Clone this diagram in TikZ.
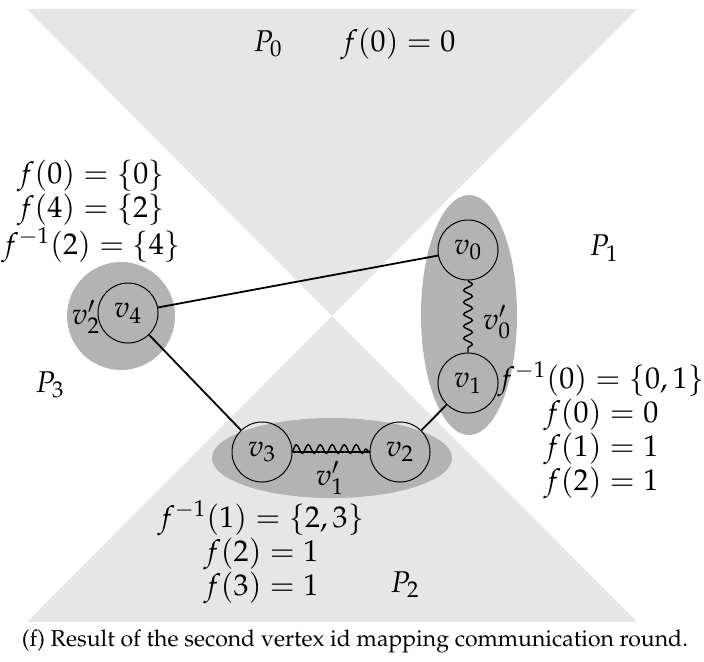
\documentclass[tikz,border=0pt]{standalone}
\usepackage[T1]{fontenc}
\usepackage{mathpazo}
\usepackage{tikz}
\usetikzlibrary{positioning,decorations.pathmorphing}
\definecolor{Region}{HTML}{E6E6E6}
\definecolor{Group}{HTML}{B3B3B3}
\newcommand{\figsize}{\fontsize{15}{17}\selectfont}
\tikzset{
  vtx/.style={circle,draw=black,line width=.5pt,minimum size=30pt,inner sep=0pt,font=\figsize},
  grp/.style={fill=Group,draw=none},
  txt/.style={font=\figsize,inner sep=0pt,align=center},
  edge/.style={draw=black,line width=.9pt},
  merge/.style={draw=black,line width=.7pt,decorate,decoration={snake,amplitude=2.2pt,segment length=6pt}}
}

\begin{document}
\begin{tikzpicture}[x=.5pt,y=-.5pt]
  \useasboundingbox (0,0) rectangle (704,661);
  % partitions
  \fill[Region] (27,9) -- (637,9) -- (332,316) -- cycle;
  \fill[Region] (27,622) -- (637,622) -- (332,316) -- cycle;
  % merged vertices
  \fill[grp] (121,316) circle [radius=27pt];
  \fill[grp] (469,315) ellipse [x radius=24pt,y radius=60pt];
  \fill[grp] (332,458) ellipse [x radius=60pt,y radius=20pt];
  % vertices
  \node[vtx] (v4) at (128,313) {$v_4$};
  \node[vtx] (v0) at (468,250) {$v_0$};
  \node[vtx] (v1) at (468,383) {$v_1$};
  \node[vtx] (v3) at (262,452) {$v_3$};
  \node[vtx] (v2) at (400,452) {$v_2$};
  \draw[edge] (v4) -- (v0);
  \draw[edge] (v4) -- (v3);
  \draw[edge] (v1) -- (v2);
  \draw[merge] (v0) -- (v1);
  \draw[merge,decoration={raise=1.5pt}] (v3) -- (v2);
  \draw[line width=.7pt] (v3) -- (v2);
  % labels
  \node[txt] (v2p) at (86,317) {$v'_2$};
  \node[txt] (v0p) at (497,322) {$v'_0$};
  \node[txt] (v1p) at (330,478) {$v'_1$};
  \node[txt] (P0) at (268,44) {$P_0$};
  \node[txt] (f0top) at (398,44) {$f(0)=0$};
  \node[txt] (P1) at (604,248) {$P_1$};
  \node[txt] (P2) at (405,585) {$P_2$};
  \node[txt] (P3) at (50,385) {$P_3$};
  \node[txt] (mapP3) at (91,211) {$f(0)=\{0\}$\\$f(4)=\{2\}$\\$f^{-1}(2)=\{4\}$};
  \node[txt] (mapP1) at (601,430) {$f^{-1}(0)=\{0,1\}$\\$f(0)=0$\\$f(1)=1$\\$f(2)=1$};
  \node[txt] (mapP2) at (261,552) {$f^{-1}(1)=\{2,3\}$\\$f(2)=1$\\$f(3)=1$};
  \node[font=\fontsize{11.5}{14}\selectfont,inner sep=0pt] (caption) at (355,641) {(f) Result of the second vertex id mapping communication round.};
\end{tikzpicture}
\end{document}
